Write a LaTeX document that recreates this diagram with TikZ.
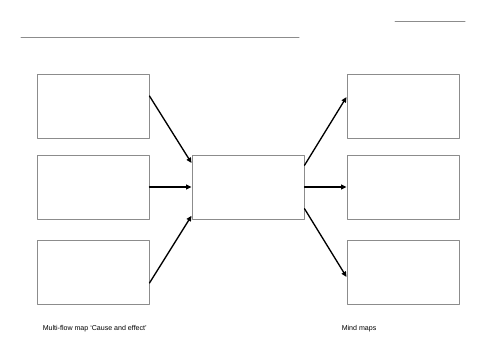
\documentclass[tikz,border=0pt]{standalone}
\usepackage{fontspec}
\setmainfont{Liberation Sans}
\usetikzlibrary{arrows.meta}
\begin{document}
\begin{tikzpicture}
% Multi-flow map template
\def\pxsz{0.75pt}
\providecommand{\mapBoxColor}{black!45}
\providecommand{\mapBoxLineWidth}{0.75pt}
\providecommand{\mapArrowLineWidth}{1pt}
\providecommand{\mapBoxWidth}{84pt}
\providecommand{\mapBoxHeight}{48pt}
\begin{scope}[x=\pxsz, y=-\pxsz, line cap=round, line join=round,
  mapbox/.style={draw=\mapBoxColor, line width=\mapBoxLineWidth, rectangle,
    minimum width=\mapBoxWidth, minimum height=\mapBoxHeight, inner sep=0pt},
  maparrow/.style={draw=black, line width=\mapArrowLineWidth,
    -{Triangle[length=4pt,width=3.6pt]}},
  maplabel/.style={anchor=west, inner sep=0pt, font=\fontsize{5.3}{6.4}\selectfont}]
  \useasboundingbox (0,0) rectangle (500,354);
  % Write-in lines
  \begin{scope}[draw=\mapBoxColor, line width=\mapBoxLineWidth]
    \draw (395,21) -- (465,21);
    \draw (21,37) -- (299,37);
  \end{scope}
  % Cause boxes
  \node[mapbox] (causetop) at (93,106) {};
  \node[mapbox] (causemid) at (93,187) {};
  \node[mapbox] (causebot) at (93,272) {};
  % Centre box
  \node[mapbox] (event) at (248,187) {};
  % Effect boxes
  \node[mapbox] (effecttop) at (403,106) {};
  \node[mapbox] (effectmid) at (403,187) {};
  \node[mapbox] (effectbot) at (403,272) {};
  % Arrows in
  \draw[maparrow] (causetop.10) -- (event.157);
  \draw[maparrow] (causemid.east) -- (event.west);
  \draw[maparrow] (causebot.-11) -- (event.207);
  % Arrows out
  \draw[maparrow] (event.21) -- (effecttop.171);
  \draw[maparrow] (event.east) -- (effectmid.west);
  \draw[maparrow] (event.-21) -- (effectbot.185);
  % Captions
  \node[maplabel] (causecap) at (42.5,329) {Multi-flow map `Cause and effect'};
  \node[maplabel] (mindcap) at (341.5,329) {Mind maps};
\end{scope}
\end{tikzpicture}
\end{document}
